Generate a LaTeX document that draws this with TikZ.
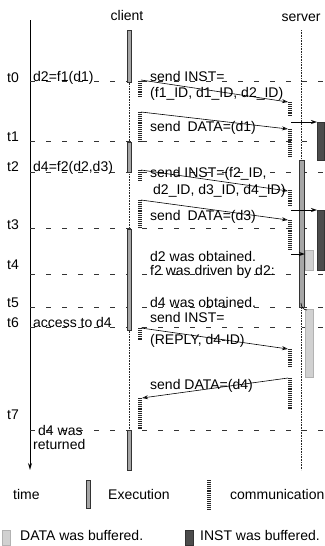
\documentclass[tikz,border=0pt]{standalone}
\usepackage{fontspec}
\setmainfont{Liberation Sans}
\usetikzlibrary{arrows.meta}
\begin{document}
\begin{tikzpicture}[x=1pt,y=-1pt,
  txt/.style={font=\fontsize{14}{16}\selectfont, inner sep=0pt, anchor=base west},
  ctxt/.style={font=\fontsize{14}{16}\selectfont, inner sep=0pt, anchor=base},
  tline/.style={black!80, line width=0.6pt, dash pattern=on 5pt off 11pt},
  life/.style={black!85, line width=0.8pt, dash pattern=on 0.8pt off 0.8pt},
  execbar/.style={draw=black!80, fill=black!35, line width=0.4pt},
  comm/.style={black!85, line width=3.6pt, dash pattern=on 0.8pt off 1.1pt},
  databuf/.style={draw=black!30, fill=black!18, line width=0.3pt},
  instbuf/.style={draw=black!80, fill=black!70, line width=0.3pt},
  msg/.style={black, line width=0.6pt, -{Stealth[open,length=6pt,width=4pt]}},
  hook/.style={black, line width=0.6pt}
]
\useasboundingbox (0,0) rectangle (324,546);

% headers
\node[ctxt] (client) at (127,20) {client};
\node[ctxt] (server) at (301,21) {server};

% lifelines
\draw[life] (129,30) -- (129,470);
\draw[life] (301,30) -- (301,470);

% time axis
\coordinate (ax0) at (30,20);
\coordinate (ax1) at (30,470);
\draw[line width=0.7pt, -{Stealth[open,length=7pt,width=4pt]}] (ax0) -- (ax1);

% dashed time lines
\foreach \yy in {81,141,172,228,274,307,327,430}
  \draw[tline] (30,\yy) -- (324,\yy);

% time labels
\node[txt] (t0) at (7,82) {t0};
\node[txt] (t1) at (7,141) {t1};
\node[txt] (t2) at (7,171) {t2};
\node[txt] (t3) at (7,229) {t3};
\node[txt] (t4) at (7,269) {t4};
\node[txt] (t5) at (7,307) {t5};
\node[txt] (t6) at (7,327) {t6};
\node[txt] (t7) at (7,419) {t7};

% left texts
\node[txt] (e0) at (33,81) {d2=f1(d1)};
\node[txt] (e2) at (33,171) {d4=f2(d2,d3)};
\node[txt] (e6) at (33,327) {access to d4};
\node[txt] (e7a) at (38,435) {d4 was};
\node[txt] (e7b) at (33,449) {returned};

% client execution bars
\draw[execbar] (127,30) rectangle (131,82);
\draw[execbar] (127,142) rectangle (131,172);
\draw[execbar] (127,229) rectangle (131,330);
\draw[execbar] (127,430) rectangle (131,470);

% server execution bar
\draw[execbar] (299,160) rectangle (304,307);

% buffers
\draw[instbuf] (317,122) rectangle (324.5,160);
\draw[instbuf] (317,210) rectangle (324.5,270);
\draw[databuf] (305,250) rectangle (313,270);
\draw[databuf] (305,309) rectangle (313,377);

% communication marks, client side
\draw[comm] (140,81) -- (140,98);
\draw[comm] (140,112) -- (140,141);
\draw[comm] (140,170) -- (140,180);
\draw[comm] (140,200) -- (140,228);
\draw[comm] (140,328) -- (140,341);
\draw[comm] (140,398) -- (140,430);
% communication marks, server side
\draw[comm] (290,102) -- (290,117);
\draw[comm] (290,129) -- (290,157);
\draw[comm] (290,190) -- (290,207);
\draw[comm] (290,220) -- (290,250);
\draw[comm] (290,349) -- (290,367);
\draw[comm] (290,378) -- (290,410);

% message texts
\node[txt] (m1a) at (150,81) {send INST=};
\node[txt] (m1b) at (150,97) {(f1\_ID, d1\_ID, d2\_ID)};
\node[txt] (m2) at (150,131) {send\hspace{0.5em}DATA=(d1)};
\node[txt] (m3a) at (150,177) {send INST=(f2\_ID,};
\node[txt] (m3b) at (153,194) {d2\_ID, d3\_ID, d4\_ID)};
\node[txt] (m4) at (150,220) {send\hspace{0.5em}DATA=(d3)};
\node[txt] (n1) at (150,261) {d2 was obtained.};
\node[txt] (n2) at (150,275) {f2 was driven by d2:};
\node[txt] (n3) at (150,307) {d4 was obtained.};
\node[txt] (m5a) at (150,322) {send INST=};
\node[txt] (m5b) at (150,344) {(REPLY, d4-ID)};
\node[txt] (m6) at (150,389) {send DATA=(d4)};

% message arrows
\coordinate (a1s) at (141,80);  \coordinate (a1e) at (288,102);
\coordinate (a2s) at (141,112); \coordinate (a2e) at (288,129);
\coordinate (a3s) at (141,170); \coordinate (a3e) at (288,191);
\coordinate (a4s) at (141,200); \coordinate (a4e) at (288,220);
\coordinate (a5s) at (141,328); \coordinate (a5e) at (288,349);
\coordinate (a6s) at (288,378); \coordinate (a6e) at (142,398);
\draw[msg] (a1s) -- (a1e);
\draw[msg] (a2s) -- (a2e);
\draw[msg] (a3s) -- (a3e);
\draw[msg] (a4s) -- (a4e);
\draw[msg] (a5s) -- (a5e);
\draw[msg] (a6s) -- (a6e);

% buffering arrows
\coordinate (b1s) at (291,122); \coordinate (b1e) at (317,122);
\coordinate (b2s) at (291,210); \coordinate (b2e) at (317,210);
\coordinate (b3s) at (291,254); \coordinate (b3e) at (305,254);
\draw[msg] (b1s) -- (b1e);
\draw[msg] (b2s) -- (b2e);
\draw[msg] (b3s) -- (b3e);
\coordinate (h1s) at (301,303); \coordinate (h1e) at (307,310);
\draw[hook] (h1s) to[out=-90,in=180] (h1e);

% legend
\node[txt] (lgtime) at (13,499) {time};
\draw[execbar] (86,480) rectangle (90,508);
\node[txt] (lgexec) at (108,499) {Execution};
\draw[comm] (209,480) -- (209,510);
\node[txt] (lgcomm) at (230,499) {communication};
\draw[databuf] (2,530) rectangle (10,545);
\node[txt] (lgdata) at (20,540) {DATA was buffered.};
\draw[instbuf] (185,530) rectangle (193,545);
\node[txt] (lginst) at (200,540) {INST was buffered.};
\end{tikzpicture}
\end{document}
